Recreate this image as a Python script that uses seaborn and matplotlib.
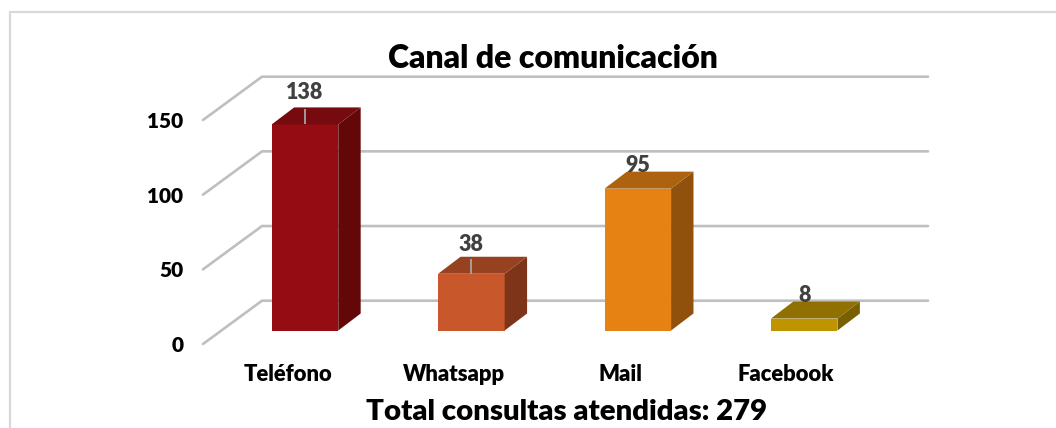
import numpy as np
import pandas as pd
import matplotlib.pyplot as plt
import seaborn as sns
from matplotlib.lines import Line2D
from matplotlib.patches import Polygon

canales = ["Teléfono", "Whatsapp", "Mail", "Facebook"]
consultas = [138, 38, 95, 8]
y_ticks = [0, 50, 100, 150]
titulo = "Canal de comunicación"
total = "Total consultas atendidas: 279"

front_colors = ["#950D13", "#C8582B", "#E58213", "#BE9500"]
top_colors = ["#750A0F", "#964220", "#AC620E", "#8F7000"]
side_colors = ["#630709", "#7E3419", "#8F510C", "#786000"]

# pixel layout of the fake 3d box
W, H = 1056, 428
STEP = 166.4      # px per category
UNIT = 1.4933     # px per value unit
FLOOR = 330.5     # pixel row of value 0 on the bar fronts
X0 = 305          # pixel column of the first bar centre
AX_L, AX_R = 203, 928
AX_B, AX_T = 344, 76.7

sns.set_theme(style="white")
plt.rcParams["font.family"] = ["Lato", "DejaVu Sans"]
plt.rcParams["font.weight"] = "heavy"

fig = plt.figure(figsize=(W / 100, H / 100), dpi=100)
ax = fig.add_axes([AX_L / W, 1 - AX_B / H, (AX_R - AX_L) / W, (AX_B - AX_T) / H])

df = pd.DataFrame({"canal": canales, "consultas": consultas})
sns.barplot(data=df, x="canal", y="consultas", hue="canal", palette=front_colors,
            width=0.4, legend=False, ax=ax, zorder=3, linewidth=0, saturation=1)

ax.set_xlim((AX_L - X0) / STEP, (AX_R - X0) / STEP)
ax.set_ylim((FLOOR - AX_B) / UNIT, (FLOOR - AX_T) / UNIT)

# left wall and back wall grid lines
front_off = (FLOOR - AX_B) / UNIT
back_off = (FLOOR - AX_T) / UNIT - max(y_ticks)
wall_x = (262 - X0) / STEP
xmin, xmax = ax.get_xlim()
for v in y_ticks:
    ax.plot([xmin, wall_x, xmax], [v + front_off, v + back_off, v + back_off],
            color="#BFBFBF", lw=1.9, zorder=1, clip_on=False, solid_joinstyle="miter")

# side and top faces of the bars
dx = 22.4 / STEP
dy = 17 / UNIT
half = 0.2
for i, v in enumerate(consultas):
    side = [(i + half, 0), (i + half + dx, dy), (i + half + dx, v + dy), (i + half, v)]
    top = [(i - half, v), (i + half, v), (i + half + dx, v + dy), (i - half + dx, v + dy)]
    ax.add_patch(Polygon(side, closed=True, fc=side_colors[i], ec="none", zorder=3))
    ax.add_patch(Polygon(top, closed=True, fc=top_colors[i], ec="none", zorder=3))

# value labels, two of them have a leader line
label_gap = [31.5, 29.5, 23, 23]
leader = [True, True, False, False]
for i, v in enumerate(consultas):
    ax.annotate(str(v), (i, v), xytext=(0, label_gap[i] * 0.72), textcoords="offset points",
                ha="center", va="center", fontsize=15.5, color="#404040", zorder=5)
    if leader[i]:
        ax.vlines(i, v, v + 15 / UNIT, color="#A6A6A6", lw=1.3, zorder=4)

ax.set_yticks([v + front_off for v in y_ticks], [str(v) for v in y_ticks])
label_shift = [-17, -17, -17.5, -18]
ax.set_xticks(np.arange(len(canales)) + np.array(label_shift) / STEP, canales)
ax.tick_params(axis="y", length=0, pad=14.3, labelsize=15, labelcolor="black")
ax.tick_params(axis="x", length=0, pad=14.5, labelsize=15.8, labelcolor="black")
ax.set_xlabel("")
ax.set_ylabel("")
sns.despine(ax=ax, left=True, bottom=True)

fig.text(553 / W, 1 - 59 / H, titulo, ha="center", va="center", fontsize=23, color="black")
fig.text(567 / W, 1 - 412 / H, total, ha="center", va="center", fontsize=21.2, color="black")

# chart frame, only the top and left edges fall inside the picture
fig.add_artist(Line2D([10 / W, 10 / W, 1], [0, 1 - 12 / H, 1 - 12 / H], transform=fig.transFigure,
                      color="#D9D9D9", lw=1.6, solid_joinstyle="miter"))

fig.savefig("out.png", dpi=100)
plt.close(fig)
